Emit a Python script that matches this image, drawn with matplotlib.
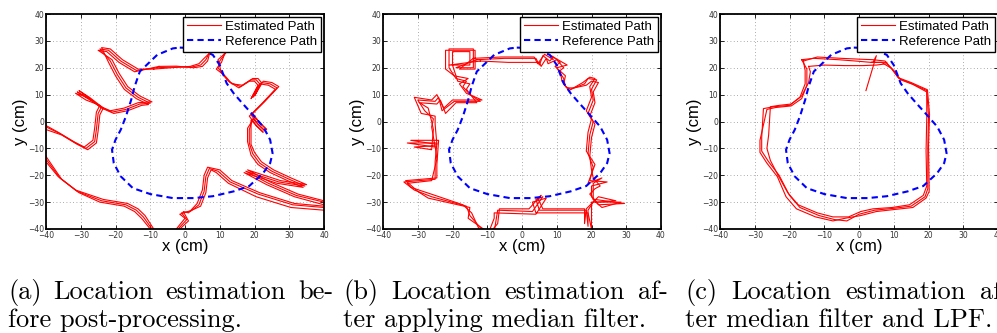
import numpy as np
import matplotlib
matplotlib.use("Agg")
import matplotlib.pyplot as plt

# reference trajectory (same for all three runs)
ref_x = [-1.5, 2.5, 4.5, 8, 10, 12, 14, 16.5, 19.5, 22.5, 24.5, 25.2, 24.5, 22.5, 18.5, 14, 8, 2.5, -3.5, -10, -15, -18.5, -20.5, -21, -20, -18.5, -17, -15.5, -14.5, -13, -8, -3.5, -1.5]
ref_y = [27.5, 27.3, 26.6, 24.8, 21, 14.2, 10.5, 6.8, 2.5, -1.9, -6.8, -11.8, -15.5, -19.2, -24, -26, -27.8, -28.5, -28.5, -27, -24.8, -20.4, -15.5, -10.5, -6.8, -3.1, 1.9, 8, 13, 18.6, 24.8, 27.2, 27.5]

# (a) raw estimates, three laps
a1_x = [-8, -3, 2, 4.5, 6, 7, 8.5, 12, 10, 9.5, 11, 13, 16, 19, 20.5, 21.5, 19.5, 22, 24.5, 26.5, 22.5, 19, 21, 23, 19.5, 18.5, 18.5, 19.5, 21.5, 25, 30, 34.5, 27, 17.5, 24, 32, 40, 46, 40, 31, 21, 13, 9.5, 7, 6, 5.5, 4, 1.5, -1, 0.5, -2, -5, -9.5, -12, -14, -17, -24, -31, -36, -40, -46, -40, -36, -31.5, -28.5, -26, -25.5, -25, -24, -28, -31, -27.5, -24.5, -21, -17, -13, -10, -13.5, -17, -19.5, -21.5, -24.5, -22, -18.5, -14, -8]
a1_y = [20, 20.3, 20.3, 21, 23, 25.5, 27, 26, 22.5, 20, 17.5, 14.5, 13, 15.5, 15.5, 14, 9, 14.5, 14, 12.5, 7, 2.5, -1, -3.5, 1, -3, -8, -12, -15.5, -18.5, -21.5, -24, -22.5, -18.5, -23, -27.5, -30, -31, -32, -31, -27, -22.5, -18.5, -17.5, -20.5, -26, -31, -33.5, -34, -36.5, -40, -46, -40, -35.5, -33, -31, -29.5, -26, -21, -14, -7, -2, -4.5, -8, -10, -7.5, -3, 3, 5.5, 8.5, 11, 8.5, 5.5, 3.5, 4.5, 6.5, 6.8, 9, 12.5, 17.5, 22.5, 27, 26.5, 22.5, 19, 20]
a2_x = [-9, -4, 1.5, 4, 5.5, 7.5, 8, 11.5, 10.5, 9, 11.5, 13.5, 16.5, 19.5, 21, 22, 20, 22.5, 25, 27, 23, 19.5, 21.5, 23.5, 20, 18, 18, 19, 21, 24.5, 29.5, 34, 26.5, 17, 23.5, 31.5, 40, 46, 40, 30.5, 20.5, 12.5, 9, 7.5, 6.5, 6, 4.5, 2, -1.5, 0, -2.5, -5, -9, -11.5, -13.5, -16.5, -23.5, -31.5, -36.5, -40, -46, -40, -35.5, -31, -28, -25.5, -25, -24.5, -23.5, -27.5, -30.5, -27, -24, -20.5, -16.5, -12.5, -10.5, -14, -17.5, -20, -22, -24, -21.5, -18, -13.5, -9]
a2_y = [19.5, 20, 20.5, 21.5, 23.5, 26, 26.5, 25.5, 22, 19.5, 17, 14, 13.5, 16, 16, 14.5, 9.5, 15, 14.5, 13, 7.5, 3, -0.5, -3, 1.5, -2.5, -7.5, -12.5, -16, -19, -22, -24.5, -23, -19, -23.5, -28, -31, -32, -33, -32, -28, -23, -19, -18, -21, -26.5, -31.5, -33, -34.5, -36, -40, -46, -40, -35, -32.5, -30.5, -29, -25.5, -20.5, -15, -7, -3, -5, -8.5, -10.5, -8, -3.5, 2.5, 5, 9, 11.5, 8, 5, 3, 4, 6, 6.3, 8.5, 12, 17, 22, 27.5, 27, 23, 19.5, 19.5]
a3_x = [-7.5, -2.5, 2.5, 5, 6.5, 7, 9, 12.5, 9.5, 10, 10.5, 12.5, 15.5, 18.5, 20, 21, 19, 21.5, 24, 26, 22, 18.5, 20.5, 22.5, 19, 19, 19, 20, 22, 25.5, 30.5, 35, 27.5, 18, 24.5, 32.5, 40, 46, 40, 31.5, 21.5, 13.5, 10, 6.5, 5.5, 5, 3.5, 1, -0.5, 1, -1.5, -5, -10, -12.5, -14.5, -17.5, -24.5, -30.5, -35.5, -40, -46, -40, -36.5, -32, -29, -26.5, -26, -25.5, -24.5, -28.5, -31.5, -28, -25, -21.5, -17.5, -13.5, -9.5, -13, -16.5, -19, -21, -25, -22.5, -19, -14.5, -7.5]
a3_y = [20.5, 20.6, 20, 20.5, 22.5, 25, 27.5, 26.5, 23, 20.5, 18, 15, 12.5, 15, 15, 13.5, 8.5, 14, 13.5, 12, 6.5, 2, -1.5, -4, 0.5, -3.5, -8.5, -11.5, -15, -18, -21, -23.5, -22, -18, -22.5, -27, -29.5, -30.5, -31.5, -30.5, -26.5, -22, -18, -17, -20, -25.5, -30.5, -34, -33.5, -37, -40, -46, -40, -36, -33.5, -31.5, -30, -26.5, -21.5, -13, -7, -1.5, -4, -7.5, -9.5, -7, -2.5, 3.5, 6, 8, 10.5, 9, 6, 4, 5, 7, 7.3, 9.5, 13, 18, 23, 26.5, 26, 22, 18.5, 20.5]

# (b) after median filter
b1_x = [-13, -5, 4, 5, 6, 8, 9, 13, 10, 12, 12.5, 14, 18, 19, 21.5, 20, 20.5, 19, 20.5, 19.5, 19, 20.5, 19.5, 24.5, 20, 20, 22, 29.5, 21, 19, 19, 18.5, 5, 4, 6, 3, -7, -7.5, -8, -11, -15, -16, -26, -31, -34, -25, -25, -24.5, -33, -25, -26, -25.5, -28, -30, -25, -24, -23, -19.5, -12, -15, -17, -16, -19, -21, -21, -14, -14, -19, -13]
b1_y = [23, 23.5, 23.5, 21, 24.5, 22.5, 24, 21, 20, 16, 13, 12, 14, 16, 15.5, 12, 8, 3, 0, -5, -12, -17, -22, -22.5, -24, -28, -31, -30.5, -29, -33, -39, -33, -33, -29, -28, -33.5, -33, -37, -41, -41, -35, -31.5, -28, -25.5, -22.5, -21.5, -15, -8, -8, -9.5, -2, 1, 4, 8, 7.5, 9, 4, 7.5, 7.5, 10, 13, 15, 16, 20, 27, 27, 20, 20, 23]
b2_x = [-12, -4, 5, 5.5, 7, 7.5, 10, 12, 11, 11.5, 13, 15, 18.5, 20, 22, 20.5, 21, 19.5, 21, 20, 19.5, 20, 20.5, 22.5, 21, 19.5, 21.5, 27, 22, 18.5, 18, 18, 6, 4.5, 5.5, 2, -6.5, -7, -9, -12, -14.5, -17, -25, -32, -33, -26, -24.5, -25, -31, -26, -25.5, -26, -27, -29.5, -24.5, -23.5, -22, -19, -13, -14.5, -16, -15, -18.5, -20, -20, -15, -15, -21, -12]
b2_y = [22.5, 22, 22, 20.5, 23.5, 21.5, 23, 20, 19, 15, 12.5, 12.5, 13.5, 15, 14.5, 11, 7, 2, -1, -6, -13, -18, -21, -24, -25, -27, -30, -29.5, -28, -32.5, -38, -32.5, -32.5, -28.5, -27.5, -32.5, -32.5, -38, -41, -41, -34, -31, -27.5, -24.5, -23, -22, -14, -9, -9.5, -10.5, -3, 0, 5, 7, 6.5, 8, 3, 7, 7, 9.5, 12, 14, 15, 21, 26, 26, 21, 21, 22.5]
b3_x = [-14, -6, 3.5, 4.5, 6.5, 9, 8.5, 11, 9.5, 12.5, 12, 13.5, 17.5, 19.5, 21, 19.5, 20, 18.5, 20, 19, 18.5, 21, 19, 23, 20.5, 20.5, 23, 28.5, 20, 20, 20, 19, 4, 3, 7, 4, -8, -8, -9.5, -10, -15.5, -15, -27, -30, -33.5, -24.5, -24.5, -24, -32, -24.5, -25, -25, -29, -31, -26, -24.5, -22.5, -20, -11.5, -16, -18, -15.5, -19.5, -22, -22, -13.5, -13.5, -18, -14]
b3_y = [23.5, 24, 24, 21.5, 25, 23, 24.5, 22, 20.5, 17, 14, 11.5, 14.5, 16.5, 16, 13, 9, 4, 1, -4, -11, -16, -23, -21, -23, -29, -32, -30, -30, -34, -40, -34, -34, -30, -28.5, -34.5, -34, -36, -41, -41, -36, -32, -28.5, -26, -22, -21, -16, -7, -7, -8.5, -1, 2, 3, 9, 8, 10, 5, 8, 8, 10.5, 14, 16, 17, 19.5, 26.5, 26.5, 19.5, 19.5, 23.5]

# (c) after median filter + LPF
c1_x = [-16, -12, -5, 0, 4, 7.5, 9.5, 11.5, 15, 19.5, 20, 19.8, 19.8, 19, 15, 10, 4.5, 0, -3.5, -7, -11.5, -17, -20, -23, -26, -28, -28, -27.5, -24.5, -20, -17, -15.5, -15.5, -16]
c1_y = [22.5, 24, 23.5, 23.2, 23, 22.5, 19.5, 16, 14.2, 11.5, 2, -10, -25, -28, -31.5, -32.3, -33, -34.5, -37, -36.5, -35, -32, -27.5, -20, -15, -11, -6, 4.8, 5.5, 6, 9, 14, 19, 22.5]
c2_x = [-14.5, -10, -4, 1, 5, 8, 10, 12, 15.5, 19.5, 19.5, 19.3, 19.5, 18.5, 14.5, 9.5, 4, 0.5, -3, -7.5, -12, -17.5, -20.5, -23.5, -25.5, -26.5, -26, -25.5, -23, -19.5, -16.5, -14.5, -14, -14.5]
c2_y = [20.5, 21, 20.8, 20.8, 21, 21.5, 19, 15.5, 13.8, 11, 1.5, -11, -24, -27.5, -31, -32, -32.5, -33.5, -35.5, -35.5, -34, -31, -26.5, -19.5, -14.5, -10, -5, 5.5, 6, 6.5, 9.5, 14.5, 18.5, 20.5]
c3_x = [-16.5, -13, -6, -1, 3.5, 6.5, 9.3, 11.3, 15, 19.7, 20.3, 20, 20.2, 19.3, 15.5, 10.5, 5, 0.5, -4, -7.5, -12.5, -18, -21, -23.5, -26.5, -28.5, -28.5, -26.5, -24, -19.5, -16.5, -15, -15, -16.5]
c3_y = [23, 23.5, 23, 22.5, 22, 22, 19.8, 16.3, 14.5, 11.8, 2.5, -9, -26, -28.5, -32, -32.7, -33.5, -35, -36, -37, -35.5, -32.5, -28, -20.5, -15.5, -11.5, -7, 4.5, 5.2, 5.8, 8.5, 13.5, 19.5, 23]
c4_x = [2, 3.5, 5, 4, 3.5, 8]
c4_y = [11.5, 18, 24.5, 22, 22, 22]

ticks = [-40, -30, -20, -10, 0, 10, 20, 30, 40]

captions = [
    ("(a) Location estimation be-", "fore post-processing."),
    ("(b) Location estimation af-", "ter applying median filter."),
    ("(c) Location estimation af-", "ter median filter and LPF."),
]

W, H = 997, 333
fig = plt.figure(figsize=(W / 100, H / 100), dpi=100)

panels = [
    (46, [(a1_x, a1_y), (a2_x, a2_y), (a3_x, a3_y)]),
    (383, [(b1_x, b1_y), (b2_x, b2_y), (b3_x, b3_y)]),
    (720, [(c1_x, c1_y), (c2_x, c2_y), (c3_x, c3_y), (c4_x, c4_y)]),
]

for left, laps in panels:
    ax = fig.add_axes([left / W, 1 - 229 / H, 278 / W, 215 / H])
    for i, (lx, ly) in enumerate(laps):
        ax.plot(lx, ly, color="red", lw=0.8,
                label="Estimated Path" if i == 0 else None)
    ax.plot(ref_x, ref_y, color="blue", lw=1.5, ls=(0, (3, 2)),
            label="Reference Path")
    ax.set_xlim(-40, 40)
    ax.set_ylim(-40, 40)
    ax.set_xticks(ticks)
    ax.set_yticks(ticks)
    ax.grid(True, ls=(0, (1, 3)), color="#909090", lw=0.6)
    ax.tick_params(direction="in", length=3, width=0.6, labelsize=5.5,
                   labelcolor="#333333", pad=1.5, top=True, right=True)
    for s in ax.spines.values():
        s.set_linewidth(1.3)
    ax.set_xlabel("x (cm)", fontsize=12, family="Liberation Sans", labelpad=-1)
    ax.set_ylabel("y (cm)", fontsize=12, family="Liberation Sans", labelpad=0)
    leg = ax.legend(loc="upper right", fancybox=False, framealpha=1,
                    edgecolor="black", borderaxespad=0.2, handlelength=2.6,
                    handletextpad=0.3, borderpad=0.3, labelspacing=0.2,
                    prop={"family": "Liberation Sans", "size": 9.5})
    leg.get_frame().set_linewidth(1.0)

# captions, first line justified across the column
r = fig.canvas.get_renderer()
cap_left = [8, 343, 685]
cap_right = [333, 668, 1010]
for (line1, line2), x0, x1 in zip(captions, cap_left, cap_right):
    words = line1.split(" ")
    texts = [fig.text(0, 1 - 299 / H, w, fontsize=19, family="cmr10",
                      va="baseline") for w in words]
    widths = [t.get_window_extent(r).width for t in texts]
    gap = (x1 - x0 - sum(widths)) / (len(words) - 1)
    x = x0
    for t, w in zip(texts, widths):
        t.set_x(x / W)
        x += w + gap
    fig.text(x0 / W, 1 - 327 / H, line2, fontsize=19, family="cmr10",
             va="baseline")

fig.savefig("out.png", dpi=100)
